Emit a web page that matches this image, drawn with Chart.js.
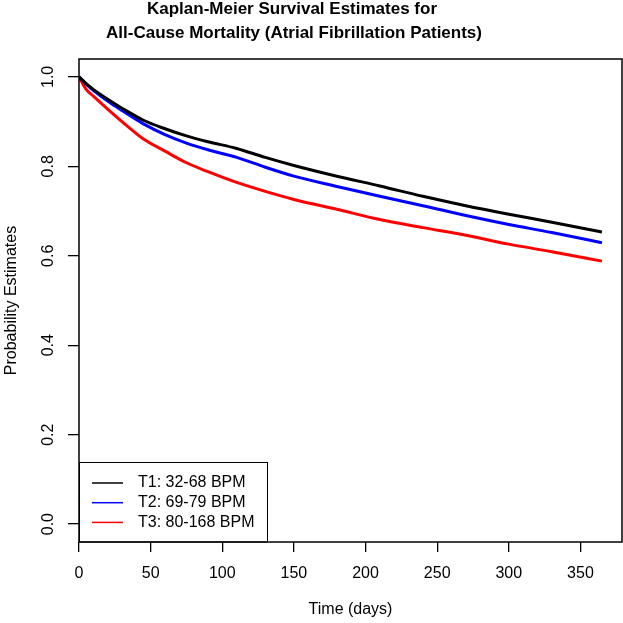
<!DOCTYPE html>
<html>
<head>
<meta charset="utf-8">
<script src="https://cdn.jsdelivr.net/npm/chart.js@4/dist/chart.umd.min.js"></script>
<style>
  html, body { margin: 0; padding: 0; background: #fff; }
  #wrap { width: 623px; height: 623px; }
</style>
</head>
<body>
<div id="wrap"><canvas id="chartID" width="623" height="623"></canvas></div>
<script>
const days = [0, 5, 10, 20, 30, 45, 60, 75, 90, 110, 130, 150, 180, 210, 240, 270, 300, 330, 365]
const t1Data = [1.0, 0.985, 0.972, 0.950, 0.930, 0.903, 0.884, 0.868, 0.855, 0.840, 0.820, 0.802, 0.778, 0.756, 0.733, 0.712, 0.693, 0.675, 0.653]
const t2Data = [1.0, 0.984, 0.970, 0.946, 0.925, 0.895, 0.871, 0.852, 0.837, 0.820, 0.798, 0.778, 0.755, 0.733, 0.712, 0.690, 0.670, 0.652, 0.629]
const t3Data = [1.0, 0.972, 0.957, 0.928, 0.900, 0.861, 0.834, 0.808, 0.788, 0.764, 0.744, 0.726, 0.704, 0.681, 0.663, 0.646, 0.626, 0.609, 0.588]
const seriesLabels = ['T1: 32-68 BPM', 'T2: 69-79 BPM', 'T3: 80-168 BPM']
const xTicks = [0, 50, 100, 150, 200, 250, 300, 350]
const yTicks = [0.0, 0.2, 0.4, 0.6, 0.8, 1.0]
const titleLines = ['Kaplan-Meier Survival Estimates for', 'All-Cause Mortality (Atrial Fibrillation Patients)']

const FONT = '"Liberation Sans", Arial, sans-serif'

function toPoints(values) {
	return values.map(function(v, i) { return { x: days[i], y: v } })
}

function makeSet(label, values, color) {
	return {
		label: label,
		data: toPoints(values),
		borderColor: color,
		backgroundColor: color,
		borderWidth: 3,
		pointRadius: 0,
		fill: false,
		cubicInterpolationMode: 'monotone',
	}
}

// box around the plot, rotated y labels, title and legend like base R
const rStyle = {
	id: 'rStyle',
	afterDraw(chart) {
		const ctx = chart.ctx
		const area = chart.chartArea
		const yScale = chart.scales.y
		ctx.save()
		ctx.strokeStyle = '#000'
		ctx.lineWidth = 1.5
		ctx.strokeRect(area.left, area.top, area.right - area.left, area.bottom - area.top)

		// y tick labels, parallel to the axis
		ctx.fillStyle = '#000'
		ctx.font = '16px ' + FONT
		ctx.textAlign = 'center'
		ctx.textBaseline = 'middle'
		yTicks.forEach(function(v) {
			let py = yScale.getPixelForValue(v)
			ctx.save()
			ctx.translate(49, py)
			ctx.rotate(-Math.PI / 2)
			ctx.fillText(v.toFixed(1), 0, 0)
			ctx.restore()
		})

		// title
		ctx.font = 'bold 17px ' + FONT
		ctx.textBaseline = 'alphabetic'
		ctx.fillText(titleLines[0], 292, 14)
		ctx.fillText(titleLines[1], 294, 37.5)

		// legend
		ctx.lineWidth = 1
		ctx.strokeRect(area.left + 0.5, 462.5, 188, area.bottom - 462.5)
		ctx.font = '16px ' + FONT
		ctx.textAlign = 'left'
		ctx.textBaseline = 'middle'
		chart.data.datasets.forEach(function(ds, i) {
			let y = 483 + i * 19.7
			ctx.strokeStyle = ds.borderColor
			ctx.lineWidth = 1.5
			ctx.beginPath()
			ctx.moveTo(92, y)
			ctx.lineTo(123, y)
			ctx.stroke()
			ctx.fillText(ds.label, 138, y)
		})
		ctx.restore()
	},
}

function drawLineChart() {
	let chartCtx = document.getElementById('chartID').getContext('2d')
	let lineChart = new Chart(chartCtx, {
		type: 'line',
		data: {
			datasets: [
				makeSet(seriesLabels[0], t1Data, '#000000'),
				makeSet(seriesLabels[1], t2Data, '#0000ff'),
				makeSet(seriesLabels[2], t3Data, '#ff0000'),
			],
		},
		options: {
			responsive: false,
			animation: false,
			layout: { padding: { top: 59, right: 1, left: 0, bottom: 0 } },
			plugins: {
				legend: { display: false },
				title: { display: false },
				tooltip: { enabled: false },
			},
			scales: {
				x: {
					type: 'linear',
					min: 0,
					max: 379,
					afterBuildTicks: function(s) { s.ticks = xTicks.map(function(v) { return { value: v } }) },
					afterFit: function(s) { s.height = 81 },
					border: { display: false },
					grid: { drawOnChartArea: false, drawTicks: true, tickLength: 10, color: '#000', lineWidth: 1.3 },
					ticks: { color: '#000', font: { family: FONT, size: 16 }, padding: 12, maxRotation: 0 },
					title: { display: true, text: 'Time (days)', color: '#000', font: { family: FONT, size: 16 }, padding: { top: 0, bottom: 4 } },
				},
				y: {
					min: -0.04,
					max: 1.04,
					afterBuildTicks: function(s) { s.ticks = yTicks.map(function(v) { return { value: v } }) },
					afterFit: function(s) { s.width = 79 },
					border: { display: false },
					grid: { drawOnChartArea: false, drawTicks: true, tickLength: 11, color: '#000', lineWidth: 1.3 },
					ticks: { display: false },
					title: { display: true, text: 'Probability Estimates', color: '#000', font: { family: FONT, size: 16 }, padding: { top: 2, bottom: 0 } },
				},
			},
		},
		plugins: [rStyle],
	})
	return lineChart
}

drawLineChart()
</script>
</body>
</html>
